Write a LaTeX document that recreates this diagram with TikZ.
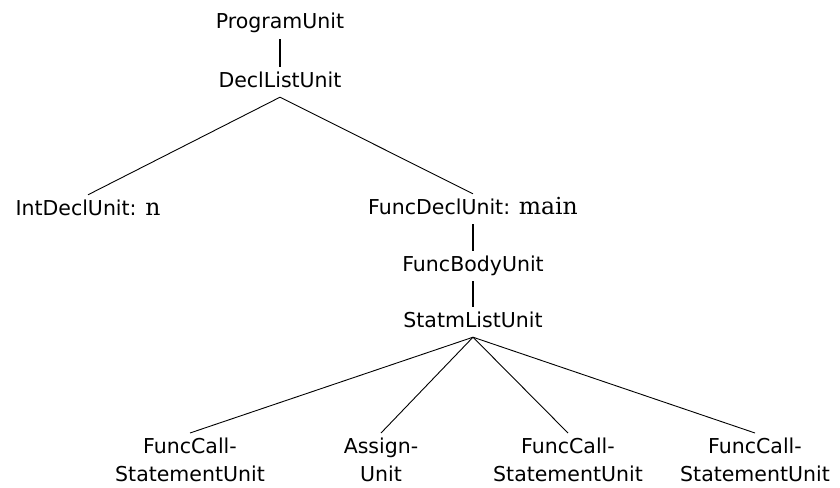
\documentclass[tikz,border=0pt]{standalone}
\usepackage{fontspec}
\newfontfamily\unitfont{DejaVu Sans}
\newfontfamily\namefont{DejaVu Serif}
\tikzset{
  unit/.style={font=\unitfont\fontsize{20.5}{28}\selectfont, inner sep=5pt,
    text height=15pt, text depth=5pt, anchor=base},
  leafunit/.style={font=\unitfont\fontsize{20.5}{28}\selectfont, inner sep=5pt,
    align=center, anchor=north},
  branch/.style={draw=black, line width=0.9pt},
  stem/.style={draw=black, line width=1.6pt}
}
\newcommand{\idname}[1]{{\namefont\fontsize{23.5}{28}\selectfont #1}}
\begin{document}
\begin{tikzpicture}[x=1pt, y=-1pt]
  \useasboundingbox (0,0) rectangle (840,487);
  % syntax tree nodes
  \node[unit] (prog) at (280,29) {ProgramUnit};
  \node[unit] (decls) at (280,87) {DeclListUnit};
  \node[unit] (intdecl) at (88,215) {IntDeclUnit: \idname{n}};
  \node[unit] (funcdecl) at (473,214) {FuncDeclUnit: \idname{main}};
  \node[unit] (body) at (473,271) {FuncBodyUnit};
  \node[unit] (stmts) at (473,327) {StatmListUnit};
  \node[leafunit] (call1) at (190,433) {FuncCall-\\StatementUnit};
  \node[leafunit] (assign) at (381,433) {Assign-\\Unit};
  \node[leafunit] (call2) at (568,433) {FuncCall-\\StatementUnit};
  \node[leafunit] (call3) at (755,433) {FuncCall-\\StatementUnit};
  % single-child links
  \draw[stem] (prog.south) -- (decls.north);
  \draw[stem] (funcdecl.south) -- (body.north);
  \draw[stem] (body.south) -- (stmts.north);
  % branching links
  \draw[branch] (decls.south) -- (intdecl.north);
  \draw[branch] (decls.south) -- (funcdecl.north);
  \draw[branch] (stmts.south) -- (call1.north);
  \draw[branch] (stmts.south) -- (assign.north);
  \draw[branch] (stmts.south) -- (call2.north);
  \draw[branch] (stmts.south) -- (call3.north);
\end{tikzpicture}
\end{document}
